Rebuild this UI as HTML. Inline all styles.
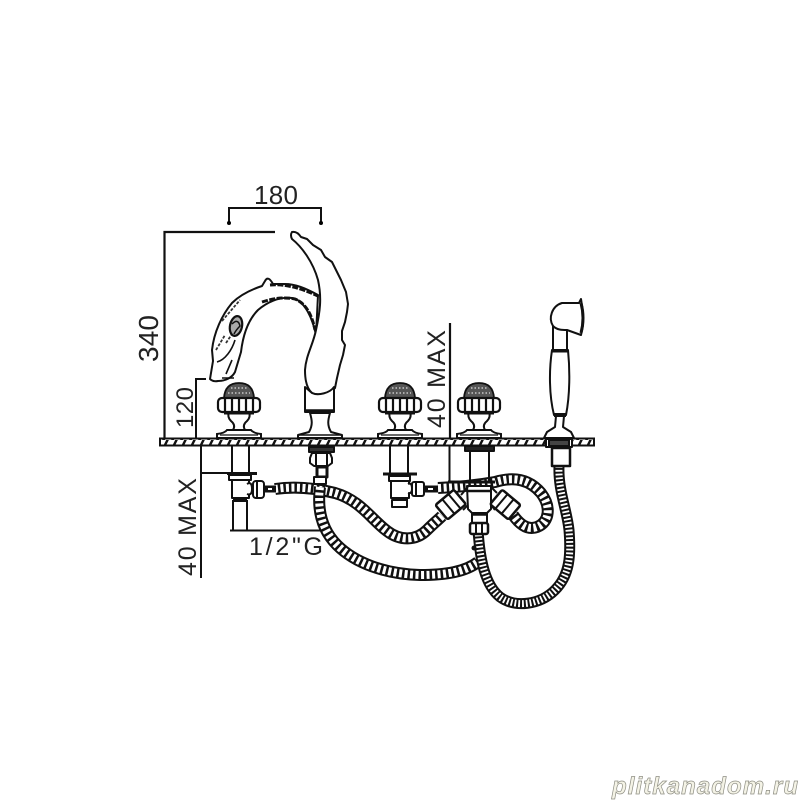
<!DOCTYPE html>
<html><head><meta charset="utf-8"><style>html,body{margin:0;padding:0;background:#fff}svg{display:block}text{font-family:"Liberation Sans",sans-serif;fill:#222}</style></head><body>
<svg width="800" height="800" viewBox="0 0 800 800" xmlns="http://www.w3.org/2000/svg">
<defs>
<pattern id="h" width="9" height="8" patternUnits="userSpaceOnUse"><rect width="9" height="8" fill="#fff"/><path d="M1 9L6 -1" stroke="#111" stroke-width="2.400"/></pattern>
<g id="knob" fill="#fff" stroke="#111" stroke-width="2">
<path d="M-22 55H22V51Q14 50 12 47H-12Q-14 50-22 51Z"/>
<path d="M-10 29Q-12 34-8 38Q-3 42-6 47H6Q3 42 8 38Q12 34 10 29Z"/>
<path d="M-15 15Q-14 0 0 0Q14 0 15 15Z" fill="#555" stroke-width="1.800"/>
<path d="M-11 10H11M-8 5H8" stroke="#ddd" stroke-width="1.200" stroke-dasharray="1.500 2"/>
<rect x="-21" y="15" width="42" height="14" rx="4" stroke-width="2.200"/>
<path d="M-14 15V29M-7 15V29M0 15V29M7 15V29M14 15V29" stroke-width="2.200"/>
<path d="M-15 30H15" stroke-width="3"/>
<path d="M-19 52H19" stroke-width="1.200"/>
</g>
</defs>
<rect width="800" height="800" fill="#fff"/>
<!-- dimensions -->
<g fill="none" stroke="#111" stroke-width="2">
<path d="M229 223V208H321V223"/>
<path d="M164.500 438V232H275" stroke-width="2.200"/>
<path d="M206 379H196V438"/>
<path d="M450 323V438" stroke-width="2.200"/>
<path d="M449.500 446V482H490"/>
<path d="M201 446V578"/>
<path d="M201 473H255"/>
<path d="M230 530.500H320"/>
</g>
<circle cx="229" cy="223" r="2"/><circle cx="321" cy="223" r="2"/>
<text x="254" y="204" font-size="26" textLength="44">180</text>
<text transform="translate(158 362) rotate(-90)" font-size="28" textLength="47">340</text>
<text transform="translate(193 428) rotate(-90)" font-size="24" textLength="41">120</text>
<text transform="translate(445 428) rotate(-90)" font-size="25" textLength="98">40 MAX</text>
<text transform="translate(196 576) rotate(-90)" font-size="25" textLength="98">40 MAX</text>
<text x="249" y="555" font-size="25" textLength="74">1/2"G</text>
<!-- hoses -->
<g fill="none" stroke-linecap="butt" stroke-linejoin="round">
<path d="M275 489C295 486 315 488 335 493C360 500 372 520 387 531C400 541 416 541 427 530C434 523 438 520 442 516" stroke="#111" stroke-width="12"/>
<path d="M275 489C295 486 315 488 335 493C360 500 372 520 387 531C400 541 416 541 427 530C434 523 438 520 442 516" stroke="#fff" stroke-width="8" stroke-dasharray="3 2.500"/>
<path d="M320 487C317 510 322 530 337 545C355 563 385 574 420 575C445 575 465 572 478 562" stroke="#111" stroke-width="12"/>
<path d="M320 487C317 510 322 530 337 545C355 563 385 574 420 575C445 575 465 572 478 562" stroke="#fff" stroke-width="8" stroke-dasharray="3 2.500"/>
<path d="M438 488C460 487 478 485 495 482C515 476 530 480 541 493C551 506 550 522 537 527C526 531 518 522 513 515" stroke="#111" stroke-width="12"/>
<path d="M438 488C460 487 478 485 495 482C515 476 530 480 541 493C551 506 550 522 537 527C526 531 518 522 513 515" stroke="#fff" stroke-width="8" stroke-dasharray="3 2.500"/>
<path d="M559 466C558 490 567 510 569 530C571 555 570 575 555 590C540 605 515 608 500 597C485 585 480 560 478 530" stroke="#111" stroke-width="11"/>
<path d="M559 466C558 490 567 510 569 530C571 555 570 575 555 590C540 605 515 608 500 597C485 585 480 560 478 530" stroke="#fff" stroke-width="7" stroke-dasharray="1.800 2"/>
</g>
<!-- deck -->
<rect x="160" y="438.500" width="434" height="7" fill="url(#h)" stroke="#111" stroke-width="2"/>
<!-- swan spout -->
<g fill="#fff" stroke="#111" stroke-width="2" stroke-linejoin="round">
<path d="M318 295C305 288 295 284 285 284L273 284Q268 275 265 281L262 286C250 290 240 295 232 303C222 315 214 332 212 350L213 361L210 379Q213 382 218 381C225 381 232 378 235 372L241 352C243 335 248 320 258 310C270 300 282 297 292 298C305 300 313 320 316 335Z"/>
<path d="M292 232Q297 231 301 237L307 239L313 245L321 250L325 257L332 262L337 272L341 280L346 292L348 304L347 312L345 322L342 331L342 340L345 345L343 355L340 365L337 378L335 388C330 394 318 396 312 393C306 388 305 378 305 370C306 355 313 345 316 330C320 312 322 298 318 280C313 262 302 247 292 239Q290 235 292 232Z"/>
<path d="M305 387V412H334V387C330 393 318 396 312 393Z"/>
<path d="M305 411H334" stroke-width="3.500"/>
<path d="M310 413C312 420 313 425 309 432L298 435V438H342V435L331 432C327 425 328 420 330 413Z"/>
<path d="M299 435H341" stroke-width="1.500"/>
<path d="M222 321L240 300M226 343L238 325M216 350L225 335" fill="none" stroke="#333" stroke-width="1.800" stroke-dasharray="3 1.500"/>
<path d="M270 285Q290 283 318 296" fill="none" stroke-width="3" stroke-dasharray="6 1.500"/>
<path d="M262 302Q280 296 295 299Q310 305 315 330" fill="none" stroke-width="3" stroke-dasharray="6 1.500"/>
<ellipse cx="236" cy="326" rx="6" ry="10" transform="rotate(12 236 326)" stroke-width="2.200" fill="#aaa"/>
<path d="M232 324Q238 318 240 326Q236 330 234 334" fill="none" stroke-width="1.500"/>
<path d="M217 362C225 360 232 350 235 340M226 374L232 360M222 378H234" fill="none" stroke-width="1.600"/>
</g>
<use href="#knob" x="239" y="383"/>
<use href="#knob" x="400" y="383"/>
<use href="#knob" x="479" y="383"/>
<!-- hand shower -->
<g fill="#fff" stroke="#111" stroke-width="2" stroke-linejoin="round">
<path d="M553 350V326C548 318 552 306 562 303L579 303L581 299L583 312L583 325L581 335L567 330V350Z"/>
<path d="M553 326C557 330 562 330 567 330" fill="none"/>
<path d="M552 350H568C570 370 570 395 566 415H554C549 395 549 370 552 350Z"/>
<path d="M552 351H568" stroke-width="3"/>
<path d="M554 415H566" stroke-width="4"/>
<path d="M556 416L555 427L547 432L544 438H574L571 432L563 427L564 416Z"/>
<path d="M581 303Q585 318 581 333" fill="none" stroke-width="3"/>
</g>
<!-- under deck parts -->
<g fill="#fff" stroke="#111" stroke-width="2" stroke-linejoin="round">
<!-- left stem -->
<path d="M232 446V473M249 446V473" fill="none"/>
<path d="M227 473.500H257" stroke-width="3"/>
<rect x="229" y="475" width="22" height="5"/>
<rect x="232" y="480" width="17" height="18"/>
<path d="M233 500H247" stroke-width="4"/>
<path d="M233 500V530M247 500V530" fill="none"/>
<path d="M247 484Q252 481 252 489Q252 496 247 494"/>
<rect x="253" y="481" width="11" height="17" rx="3"/>
<path d="M257 481V498"/>
<path d="M264 489H276" stroke-width="7"/><path d="M268 489H272" stroke="#fff" stroke-width="2"/>
<!-- spout stem -->
<rect x="309" y="447" width="25" height="5" fill="#333"/>
<path d="M312 453H330L332 458V463L328 466H314L310 463V458Z"/>
<path d="M316 453V466M327 453V466" fill="none"/>
<rect x="317" y="467" width="10" height="10" stroke-width="3"/>
<rect x="314" y="477" width="12" height="7"/>
<!-- middle stem -->
<path d="M390 446V473M408 446V473" fill="none"/>
<path d="M383 474H417" stroke-width="3"/>
<rect x="389" y="476" width="21" height="5"/>
<rect x="391" y="481" width="18" height="17"/>
<path d="M392 499H408" stroke-width="4"/>
<rect x="392" y="500" width="15" height="7"/>
<path d="M408 484Q412 482 412 489Q412 494 408 493"/>
<rect x="412" y="482" width="12" height="14" rx="2"/>
<path d="M416 482V496"/>
<path d="M424 489H438" stroke-width="7"/><path d="M428 489H433" stroke="#fff" stroke-width="2"/>
<!-- mixer -->
<rect x="465" y="446" width="29" height="5" fill="#222"/>
<path d="M470 451V482M489 451V482" fill="none"/>
<path d="M448 482H495" stroke-width="3" fill="none"/>
<path d="M467 486H491V509L487 513H472L468 509Z"/>
<path d="M468 491H491" stroke-width="2.500"/>
<path d="M472 513H487V524H472Z"/>
<path d="M473 514H486" stroke-width="3.500"/>
<rect x="470" y="523" width="18" height="11" rx="2" stroke-width="2.500"/>
<path d="M476 523V534M482 523V534" fill="none"/>
<g transform="rotate(-40 451 505)"><rect x="439" y="495" width="24" height="19" rx="2" stroke-width="2.500"/><path d="M448 495V514M456 495V514" fill="none"/></g>
<g transform="rotate(40 505 505)"><rect x="493" y="495" width="24" height="19" rx="2" stroke-width="2.500"/><path d="M500 495V514M508 495V514" fill="none"/></g>
<path d="M461 495L468 487M463 510L468 505M491 487L497 493M491 505L495 510" fill="none"/>
<!-- shower connector -->
<rect x="546" y="439" width="26" height="8" fill="#fff"/>
<rect x="549" y="440" width="20" height="6" fill="#444"/>
<rect x="552" y="448" width="18" height="18" stroke-width="2.500"/>
</g>
<circle cx="474" cy="548" r="2.500" fill="#111"/>
<!-- watermark -->
<text x="612" y="794" font-size="24" font-style="italic" font-weight="bold" textLength="186" style="font-family:'Liberation Sans',sans-serif;fill:#f4f3e6;stroke:#8f8f85;stroke-width:.7">plitkanadom.ru</text>
</svg>
</body></html>
